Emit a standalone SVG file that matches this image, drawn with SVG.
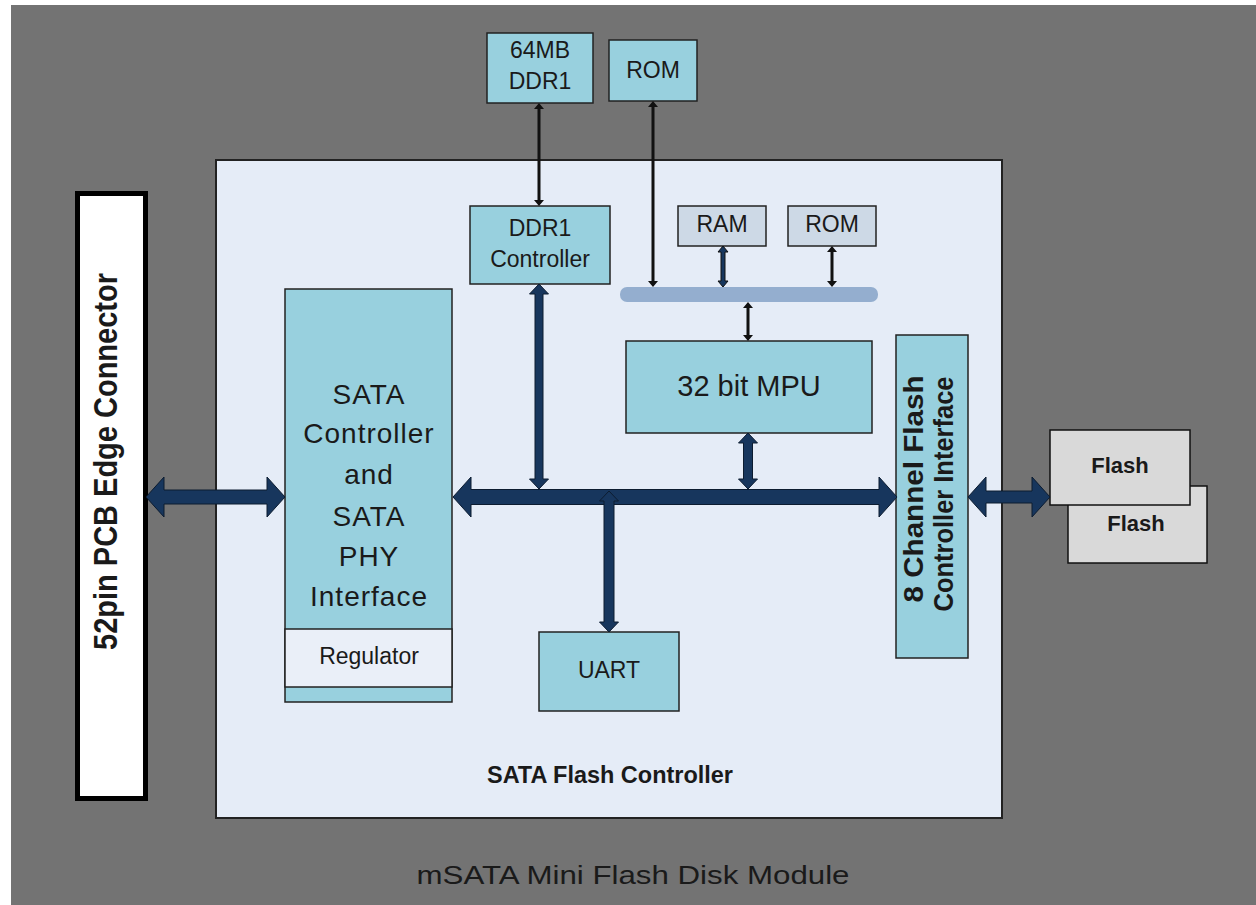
<svg xmlns="http://www.w3.org/2000/svg" width="1256" height="905" viewBox="0 0 1256 905">
<style>
.t{font-family:"Liberation Sans",Arial,sans-serif;fill:#1a1a1a;text-anchor:middle}
.b{font-weight:bold}
.box{fill:#98d0de;stroke:#222;stroke-width:1.5}
.mem{fill:#cdd9e6;stroke:#222;stroke-width:1.5}
.flash{fill:#d9d9d9;stroke:#111;stroke-width:1.5}
.thick{fill:#17365d;stroke:#0c1c30;stroke-width:1}
.thin{fill:#111;stroke:none}
</style>
<rect x="0" y="0" width="1256" height="905" fill="#ffffff"/>
<rect x="11" y="5" width="1245" height="900" fill="#737373"/>

<g id="module-label">
<text class="t" x="633" y="884" font-size="26" textLength="433" lengthAdjust="spacingAndGlyphs">mSATA Mini Flash Disk Module</text>
</g>

<g id="edge-connector">
<rect x="77.5" y="193.5" width="68" height="605" fill="#ffffff" stroke="#000" stroke-width="5"/>
<text class="t b" transform="translate(117,461.5) rotate(-90)" x="0" y="0" font-size="33" textLength="377" lengthAdjust="spacingAndGlyphs">52pin PCB Edge Connector</text>
</g>

<g id="flash-controller-panel">
<rect x="216" y="160" width="786" height="658" fill="#e5ecf7" stroke="#222" stroke-width="2"/>
<text class="t b" x="610" y="783" font-size="23" textLength="246" lengthAdjust="spacingAndGlyphs">SATA Flash Controller</text>
</g>

<g id="ddr1-memory">
<rect class="box" x="487" y="33" width="106" height="70"/>
<text class="t" x="540" y="58" font-size="23">64MB</text>
<text class="t" x="540" y="89" font-size="23">DDR1</text>
</g>

<g id="rom-external">
<rect class="box" x="609" y="40" width="88" height="61"/>
<text class="t" x="653" y="78" font-size="23">ROM</text>
</g>

<g id="ddr1-controller">
<rect class="box" x="470" y="206" width="140" height="78"/>
<text class="t" x="540" y="236" font-size="23">DDR1</text>
<text class="t" x="540" y="267" font-size="23">Controller</text>
</g>

<g id="ram">
<rect class="mem" x="678" y="206" width="88" height="40"/>
<text class="t" x="722" y="232" font-size="23">RAM</text>
</g>

<g id="rom-internal">
<rect class="mem" x="788" y="206" width="88" height="40"/>
<text class="t" x="832" y="232" font-size="23">ROM</text>
</g>

<g id="local-bus">
<rect x="620" y="287" width="258" height="15" rx="7" fill="#94aecf"/>
</g>

<g id="mpu">
<rect class="box" x="626" y="341" width="246" height="92"/>
<text class="t" x="749" y="396" font-size="29">32 bit MPU</text>
</g>

<g id="sata-controller">
<rect class="box" x="285" y="289" width="167" height="413"/>
<rect x="285" y="629" width="167" height="58" fill="#eaeff8" stroke="#222" stroke-width="1.5"/>
<g font-size="28" letter-spacing="1">
<text class="t" x="369" y="404">SATA</text>
<text class="t" x="369" y="443">Controller</text>
<text class="t" x="369" y="484">and</text>
<text class="t" x="369" y="526">SATA</text>
<text class="t" x="369" y="566">PHY</text>
<text class="t" x="369" y="606">Interface</text>
</g>
<text class="t" x="369" y="664" font-size="23">Regulator</text>
</g>

<g id="uart">
<rect class="box" x="539" y="632" width="140" height="79"/>
<text class="t" x="609" y="678" font-size="23">UART</text>
</g>

<g id="flash-interface">
<rect class="box" x="896" y="335" width="72" height="323"/>
<text class="t b" transform="translate(923,489) rotate(-90)" x="0" y="0" font-size="27" textLength="227" lengthAdjust="spacingAndGlyphs">8 Channel Flash</text>
<text class="t b" transform="translate(953,494) rotate(-90)" x="0" y="0" font-size="27" textLength="235" lengthAdjust="spacingAndGlyphs">Controller Interface</text>
</g>

<g id="flash-2">
<rect class="flash" x="1068" y="486" width="139" height="77"/>
<text class="t b" x="1136" y="531" font-size="22">Flash</text>
</g>

<g id="flash-1">
<rect class="flash" x="1050" y="430" width="140" height="75"/>
<text class="t b" x="1120" y="473" font-size="22">Flash</text>
</g>

<g id="connectors">
<polygon class="thin" points="539,103 544,109 540.5,109 540.5,200 544,200 539,206 534,200 537.5,200 537.5,109 534,109"/>
<polygon class="thin" points="653,101 658,107 654.5,107 654.5,281 658,281 653,287 648,281 651.5,281 651.5,107 648,107"/>
<polygon points="723,246 728,252 725,252 725,281 728,281 723,287 718,281 721,281 721,252 718,252" fill="#17365d" stroke="#111" stroke-width="1"/>
<polygon class="thin" points="832,246 837,252 833.5,252 833.5,281 837,281 832,287 827,281 830.5,281 830.5,252 827,252"/>
<polygon class="thin" points="748,302 753,308 749.5,308 749.5,335 753,335 748,341 743,335 746.5,335 746.5,308 743,308"/>
<polygon class="thick" points="539,284 548.5,294 543,294 543,479 548.5,479 539,489 529.5,479 535,479 535,294 529.5,294"/>
<polygon class="thick" points="748,433 757.5,443 752.5,443 752.5,479 757.5,479 748,489 738.5,479 743.5,479 743.5,443 738.5,443"/>
<polygon class="thick" points="146,497 164,477 164,490 267,490 267,477 285,497 267,517 267,504 164,504 164,517"/>
<polygon class="thick" points="453,497 471,477 471,489.5 879,489.5 879,477 897,497 879,517 879,504.5 471,504.5 471,517"/>
<polygon class="thick" points="968,497 986,477 986,491 1032,491 1032,477 1050,497 1032,517 1032,503 986,503 986,517"/>
<polygon class="thick" points="609,491 618.5,501 614,501 614,622 618.5,622 609,632 599.5,622 604,622 604,501 599.5,501"/>
</g>
</svg>
